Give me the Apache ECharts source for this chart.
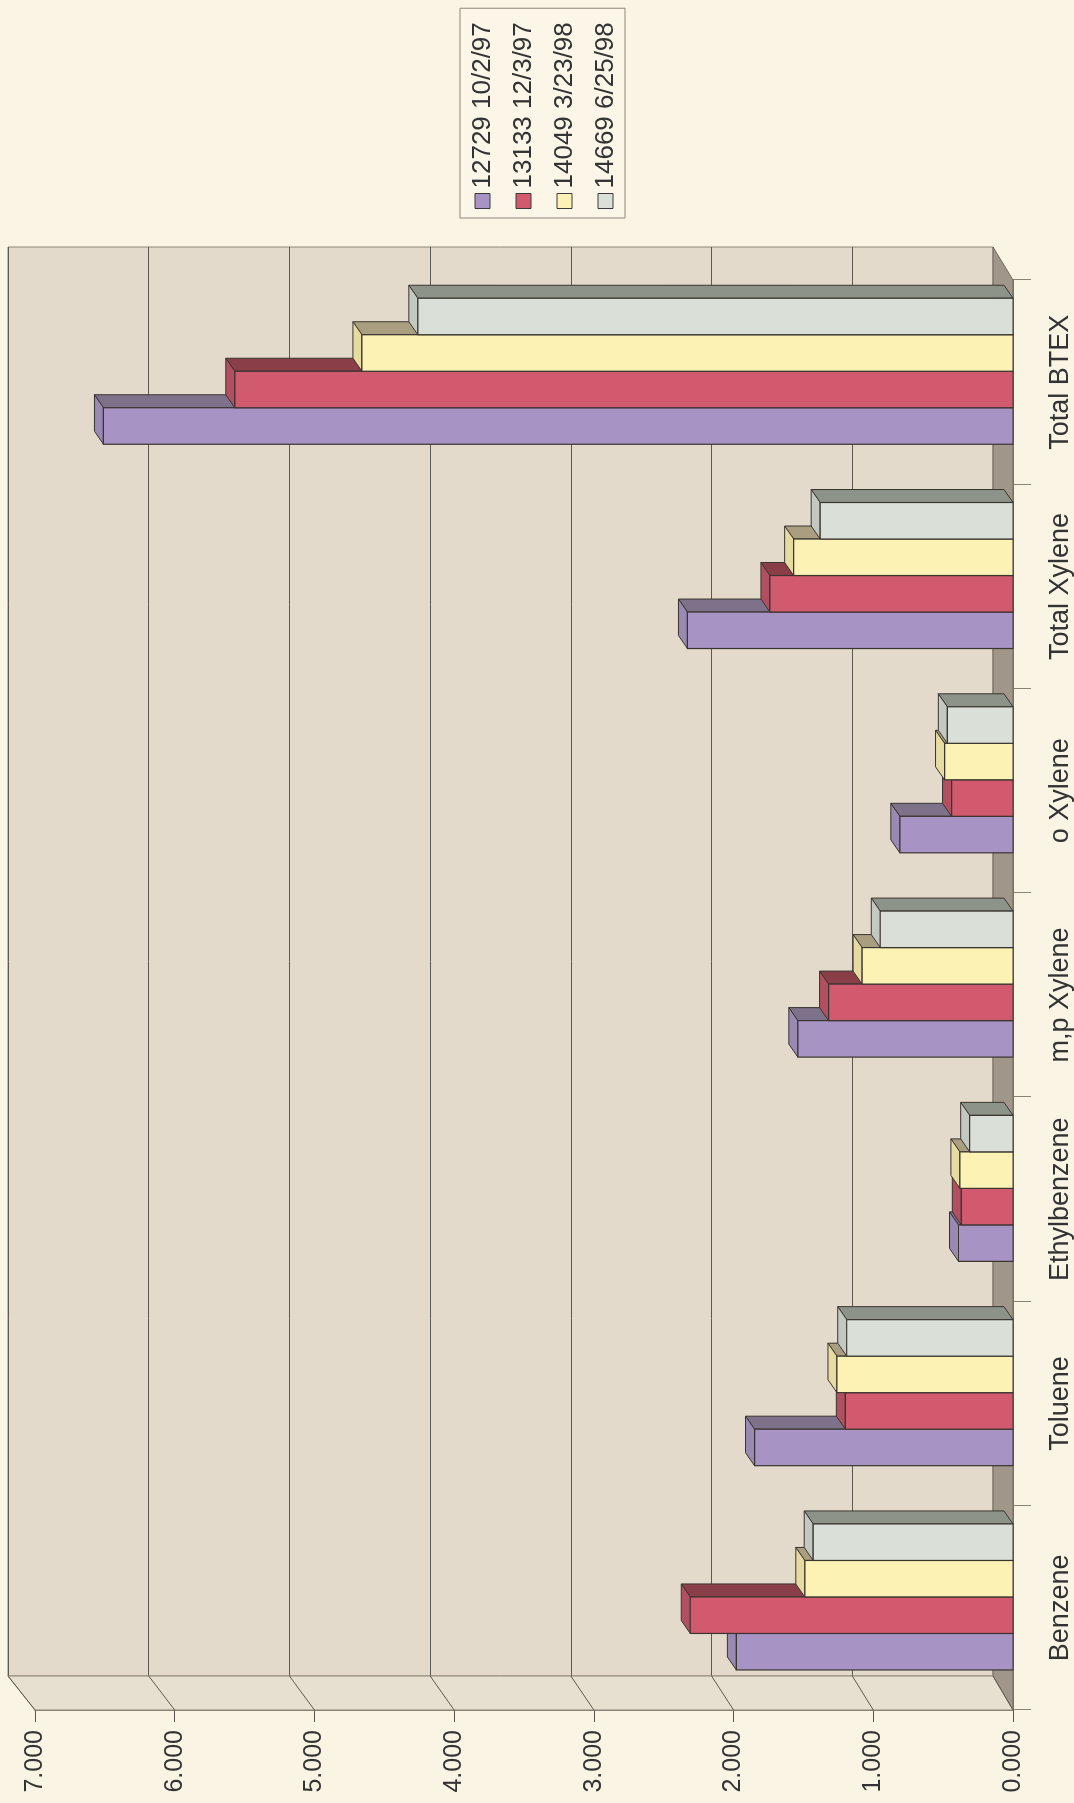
<!DOCTYPE html>
<html>
<head>
<meta charset="utf-8">
<script src="https://cdn.jsdelivr.net/npm/echarts@6/dist/echarts.min.js"></script>
<style>
  html, body { margin: 0; padding: 0; width: 1074px; height: 1803px; overflow: hidden; background: #faf4e4; }
  /* the chart is laid out upright and turned a quarter to the left, like the scan */
  #wrap { position: absolute; left: 0; top: 0; width: 1803px; height: 1074px;
          transform-origin: 0 0; transform: translateY(1803px) rotate(-90deg); }
</style>
</head>
<body>
<div id="wrap"></div>
<script>
const categories = ['Benzene', 'Toluene', 'Ethylbenzene', 'm,p Xylene', 'o Xylene', 'Total Xylene', 'Total BTEX'];
const seriesNames = ['12729 10/2/97', '13133 12/3/97', '14049 3/23/98', '14669 6/25/98'];
const s12729 = [1.98, 1.85, 0.39, 1.54, 0.81, 2.33, 6.51];
const s13133 = [2.31, 1.20, 0.37, 1.32, 0.44, 1.74, 5.57];
const s14049 = [1.49, 1.26, 0.38, 1.08, 0.49, 1.57, 4.66];
const s14669 = [1.43, 1.19, 0.31, 0.95, 0.47, 1.38, 4.26];
const valueMin = 0, valueMax = 7, valueStep = 1;

const seriesValues = [s12729, s13133, s14049, s14669];
// front, side, top face colours
const faces = [
  ['#a793c4', '#7d7289', '#9989b3'],
  ['#d25a6e', '#8a3e48', '#b24f60'],
  ['#fcf2b4', '#a99f80', '#e6dca2'],
  ['#dae0d8', '#8e9389', '#c3c9c1'],
];
const EDGE = '#3a3530';
const FONT = 'Liberation Sans, Arial, sans-serif';

// front plot box and back wall box (upright layout)
const front = { left: 93, right: 280, top: 35, bottom: 61 };
const back = { left: 127, right: 247, top: 8, bottom: 81 };
const bar = { dx: 13, dy: -9, frac: 0.1787, offset: 0.196 };

const chart = echarts.init(document.getElementById('wrap'));

const makeRender = (si) => (params, api) => {
  const ci = api.value(0);
  const v = api.value(1);
  const base = api.coord([ci, 0]);
  const top = api.coord([ci, v]);
  const band = api.size([1, 0])[0];
  const bw = band * bar.frac;
  const x = base[0] - band / 2 + band * bar.offset + si * bw;
  const c = faces[si];
  const side = [
    [x + bw, top[1]], [x + bw + bar.dx, top[1] + bar.dy],
    [x + bw + bar.dx, base[1] + bar.dy], [x + bw, base[1]],
  ];
  const cap = [
    [x, top[1]], [x + bar.dx, top[1] + bar.dy],
    [x + bw + bar.dx, top[1] + bar.dy], [x + bw, top[1]],
  ];
  return {
    type: 'group',
    children: [
      { type: 'polygon', shape: { points: side }, style: { fill: c[1], stroke: EDGE, lineWidth: 1 } },
      { type: 'polygon', shape: { points: cap }, style: { fill: c[2], stroke: EDGE, lineWidth: 1 } },
      { type: 'rect', shape: { x: x, y: top[1], width: bw, height: base[1] - top[1] },
        style: { fill: c[0], stroke: EDGE, lineWidth: 1.2 } },
    ],
  };
};

const serieslist = seriesNames.map((name, si) => ({
  name: name,
  type: 'custom',
  xAxisIndex: 0,
  yAxisIndex: 0,
  itemStyle: { color: faces[si][0] },
  renderItem: makeRender(si),
  encode: { x: 0, y: 1 },
  data: seriesValues[si].map((v, i) => [i, v]),
  z: 5,
}));

chart.setOption({
  animation: false,
  backgroundColor: '#faf4e4',
  legend: {
    orient: 'vertical',
    left: 1585,
    top: 460,
    padding: [9, 14, 6, 9],
    itemGap: 14,
    itemWidth: 15,
    itemHeight: 15,
    icon: 'rect',
    itemStyle: { borderColor: '#3a3a3a', borderWidth: 1 },
    borderColor: '#8c877a',
    borderWidth: 1,
    backgroundColor: '#fbf6e8',
    textStyle: { fontFamily: FONT, fontSize: 26, lineHeight: 27, color: '#333' },
    data: seriesNames,
  },
  grid: [
    { left: front.left, right: front.right, top: front.top, bottom: front.bottom },
    {
      left: back.left, right: back.right, top: back.top, bottom: back.bottom,
      show: true, backgroundColor: '#e3dacb', borderColor: '#8f887b', borderWidth: 1,
    },
  ],
  xAxis: [
    {
      type: 'category',
      gridIndex: 0,
      data: categories,
      axisLine: { lineStyle: { color: '#5a554c', width: 1.5 } },
      axisTick: { show: true, length: 18, lineStyle: { color: '#8a8478' } },
      axisLabel: { interval: 0, margin: 34, fontFamily: FONT, fontSize: 27, color: '#333' },
    },
    {
      type: 'category',
      gridIndex: 1,
      data: categories,
      axisLine: { show: false },
      axisTick: { show: false },
      axisLabel: { show: false },
    },
  ],
  yAxis: [
    {
      type: 'value',
      gridIndex: 0,
      min: valueMin,
      max: valueMax,
      interval: valueStep,
      axisLine: { show: true, lineStyle: { color: '#5a554c', width: 1.5 } },
      axisTick: { show: true, length: 12, lineStyle: { color: '#5a554c' } },
      axisLabel: {
        margin: 20, fontFamily: FONT, fontSize: 25, color: '#333',
        formatter: (v) => v.toFixed(3),
      },
      splitLine: { show: false },
    },
    {
      type: 'value',
      gridIndex: 1,
      min: valueMin,
      max: valueMax,
      interval: valueStep,
      axisLine: { show: false },
      axisTick: { show: false },
      axisLabel: { show: false },
      splitLine: { show: true, lineStyle: { color: '#5e5950', width: 1 } },
    },
  ],
  series: serieslist,
});

// floor and side wall of the 3d box, plus the slanted tick lines on the side wall
const W = 1803, H = 1074;
const fx0 = front.left, fx1 = W - front.right, fy0 = front.top, fy1 = H - front.bottom;
const bx0 = back.left, bx1 = W - back.right, by0 = back.top, by1 = H - back.bottom;
const graphics = [
  {
    type: 'polygon', z: 1, silent: true,
    shape: { points: [[fx0, fy1], [fx1, fy1], [bx1, by1], [bx0, by1]] },
    style: { fill: '#a0978a', stroke: '#6f685d', lineWidth: 1 },
  },
  {
    type: 'polygon', z: 1, silent: true,
    shape: { points: [[fx0, fy0], [bx0, by0], [bx0, by1], [fx0, fy1]] },
    style: { fill: '#e7dfcf', stroke: '#8f887b', lineWidth: 1 },
  },
];
for (let v = valueMin; v <= valueMax; v += valueStep) {
  const yf = chart.convertToPixel({ yAxisIndex: 0 }, v);
  const yb = chart.convertToPixel({ yAxisIndex: 1 }, v);
  graphics.push({
    type: 'line', z: 2, silent: true,
    shape: { x1: fx0, y1: yf, x2: bx0, y2: yb },
    style: { stroke: '#5e5950', lineWidth: 1 },
  });
}
chart.setOption({ graphic: graphics });
</script>
</body>
</html>
